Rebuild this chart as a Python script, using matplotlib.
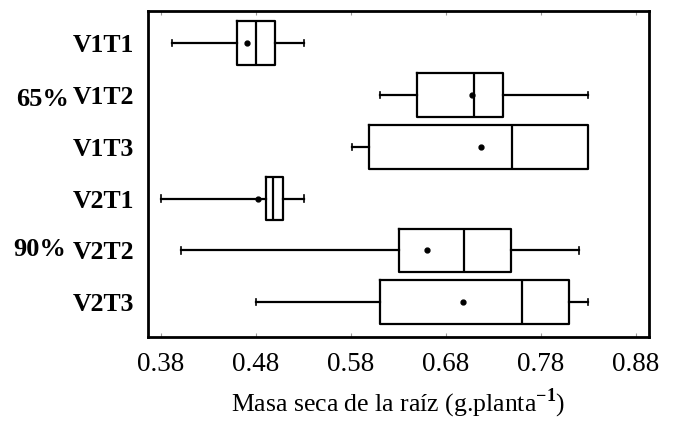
import matplotlib
matplotlib.use('Agg')
from matplotlib import pyplot as plt

plt.rcParams['font.family'] = ['Liberation Serif', 'DejaVu Serif']
plt.rcParams['mathtext.fontset'] = 'custom'
plt.rcParams['mathtext.rm'] = 'Liberation Serif'
plt.rcParams['mathtext.bf'] = 'Liberation Serif:bold'

# values (g/planta)
groups = ['V1T1', 'V1T2', 'V1T3', 'V2T1', 'V2T2', 'V2T3']
whislo = [0.392, 0.611, 0.581, 0.380, 0.401, 0.480]
q1 = [0.460, 0.650, 0.599, 0.491, 0.631, 0.611]
med = [0.480, 0.710, 0.750, 0.498, 0.699, 0.760]
q3 = [0.500, 0.740, 0.830, 0.508, 0.749, 0.810]
whishi = [0.531, 0.830, 0.830, 0.531, 0.820, 0.830]
means = [0.471, 0.707, 0.717, 0.482, 0.660, 0.698]
xticks = [0.38, 0.48, 0.58, 0.68, 0.78, 0.88]

stats = []
for i in range(len(groups)):
    stats.append({'label': groups[i], 'whislo': whislo[i], 'q1': q1[i], 'med': med[i],
                  'q3': q3[i], 'whishi': whishi[i], 'mean': means[i], 'fliers': []})

fig = plt.figure(figsize=(6.83, 4.21), dpi=100)
ax = fig.add_axes([0.2167, 0.1995, 0.7333, 0.7746])

positions = list(range(1, len(groups) + 1))
ax.bxp(stats, positions=positions, orientation='horizontal', widths=0.84,
       showmeans=True, showfliers=False, capwidths=0.12,
       boxprops=dict(color='black', linewidth=1.6),
       whiskerprops=dict(color='black', linewidth=1.6),
       capprops=dict(color='black', linewidth=1.2),
       medianprops=dict(color='black', linewidth=1.6),
       meanprops=dict(marker='o', markerfacecolor='black', markeredgecolor='black', markersize=3.5))

ax.set_ylim(6.67, 0.38)
ax.set_xlim(0.3663, 0.8937)
ax.set_yticks(positions)
ax.set_yticklabels(groups, fontsize=18.5, fontweight='bold')
ax.set_xticks(xticks)
ax.set_xticklabels(['%.2f' % t for t in xticks], fontsize=19.5)
ax.tick_params(axis='y', length=0, pad=10)
ax.tick_params(axis='x', direction='in', length=3, color='#999999', top=True, pad=11)
for s in ax.spines.values():
    s.set_linewidth(2)

ax.set_xlabel(r'Masa seca de la raíz (g.planta$^{\mathbf{-1}}$)', fontsize=18.5, labelpad=7)

fig.text(0.063, 1 - 100 / 421, '65%', fontsize=19, fontweight='bold', ha='center', va='center')
fig.text(0.058, 1 - 250 / 421, '90%', fontsize=19, fontweight='bold', ha='center', va='center')

fig.savefig('out.png', dpi=100)
